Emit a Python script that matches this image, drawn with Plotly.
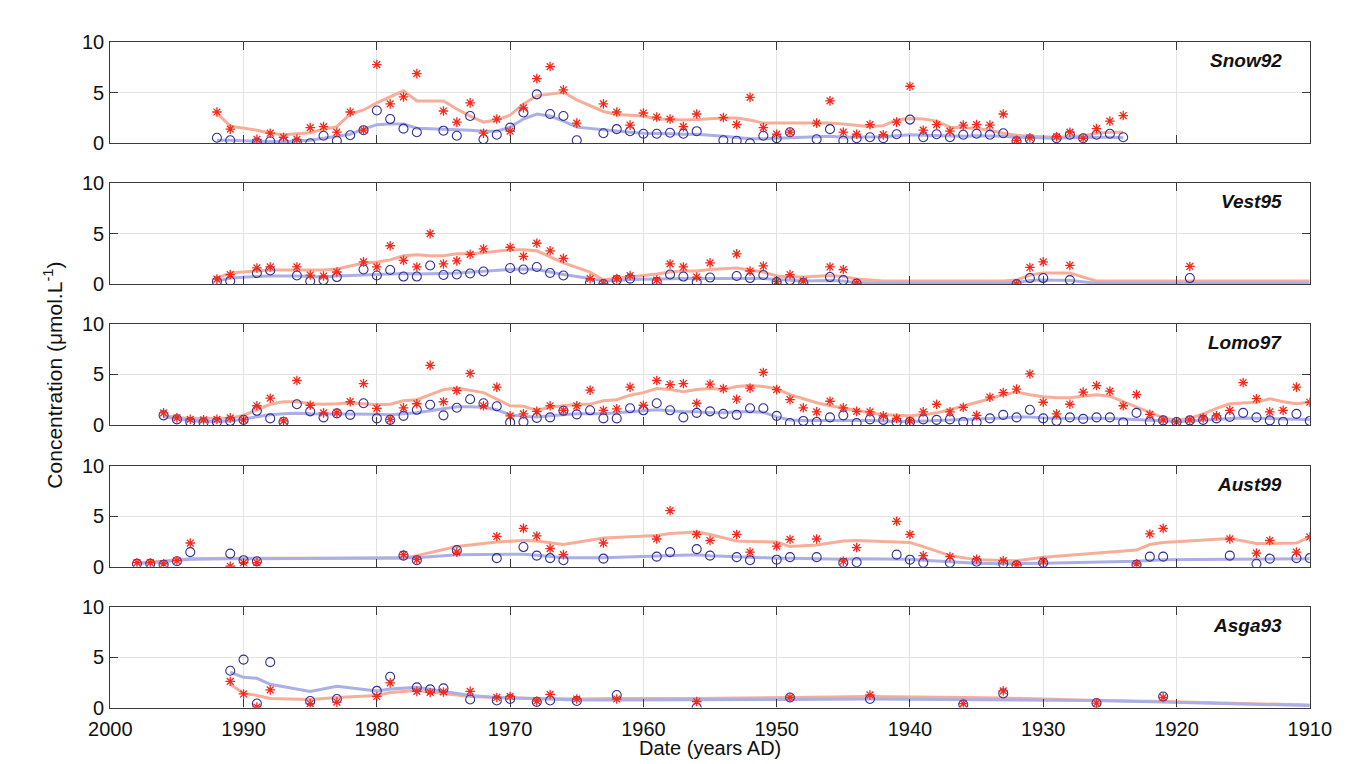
import plotly.graph_objects as go

# ---------------- DATA ----------------
panel_names = ["Snow92", "Vest95", "Lomo97", "Aust99", "Asga93"]

# Snow92
snow_years = [1992, 1991, 1989, 1988, 1987, 1986, 1985, 1984, 1983, 1982, 1981, 1980, 1979, 1978, 1977,
              1975, 1974, 1973, 1972, 1971, 1970, 1969, 1968, 1967, 1966, 1965,
              1963, 1962, 1961, 1960, 1959, 1958, 1957, 1956,
              1954, 1953, 1952, 1951, 1950, 1949,
              1947, 1946, 1945, 1944, 1943, 1942, 1941, 1940, 1939, 1938, 1937, 1936, 1935, 1934, 1933, 1932, 1931,
              1929, 1928, 1927, 1926, 1925, 1924]
snow_red = [3.1, 1.4, 0.4, 1.0, 0.6, 0.4, 1.55, 1.65, 1.1, 3.1, 1.3, 7.8, 3.9, 4.6, 6.9,
            3.2, 2.1, 4.0, 1.0, 2.4, 1.2, 3.5, 6.4, 7.6, 5.3, 2.0,
            3.9, 3.1, 1.8, 3.0, 2.6, 2.4, 1.65, 2.9,
            2.55, 1.85, 4.55, 1.55, 0.9, 1.1,
            2.0, 4.2, 1.1, 0.9, 1.85, 0.85, 2.1, 5.65, 1.3, 1.85, 1.2, 1.8, 1.85, 1.8, 2.9, 0.3, 0.55,
            0.65, 1.1, 0.5, 1.45, 2.2, 2.75]
snow_blue = [0.55, 0.3, 0.05, 0.2, 0.1, 0.05, 0.0, 0.75, 0.25, 0.8, 1.3, 3.25, 2.4, 1.45, 1.1,
             1.25, 0.75, 2.7, 0.4, 0.85, 1.55, 3.05, 4.85, 2.9, 2.7, 0.3,
             1.0, 1.4, 1.2, 0.95, 0.95, 1.05, 0.95, 1.2,
             0.3, 0.25, 0.0, 0.75, 0.5, 1.1,
             0.4, 1.4, 0.25, 0.5, 0.6, 0.5, 0.9, 2.35, 0.6, 0.9, 0.6, 0.85, 0.95, 0.85, 1.0, 0.2, 0.4,
             0.5, 0.85, 0.5, 0.85, 0.95, 0.6]
snow_line_years = snow_years
snow_red_line = [3.0, 1.7, 1.3, 1.0, 0.85, 0.95, 1.05, 1.4, 1.65, 2.9, 3.3, 4.0, 4.6, 5.2, 4.2,
                 4.2, 3.4, 2.7, 2.1, 2.3, 2.8, 3.9, 4.7, 4.9, 5.05, 4.3,
                 3.15, 2.85, 2.8, 2.7, 2.4, 2.35, 2.3, 2.35,
                 2.5, 2.5, 2.3, 2.0, 2.0, 2.0,
                 2.0, 2.0, 1.9, 1.8, 1.65, 1.75, 2.3, 2.45, 2.4, 2.2, 1.6, 1.55, 1.5, 1.3, 1.0, 0.8, 0.7,
                 0.6, 0.7, 0.75, 1.0, 1.1, 1.1]
snow_blue_line = [0.3, 0.3, 0.2, 0.2, 0.15, 0.25, 0.3, 0.5, 0.7, 0.9, 1.4, 1.85, 1.9, 1.9, 1.5,
                  1.4, 1.4, 1.3, 1.2, 1.2, 1.6, 2.4, 2.9, 2.7, 2.2, 1.6,
                  1.35, 1.2, 1.1, 1.0, 1.0, 0.95, 0.9, 0.9,
                  0.7, 0.55, 0.45, 0.45, 0.5, 0.6,
                  0.65, 0.7, 0.6, 0.6, 0.6, 0.65, 0.75, 0.85, 0.8, 0.75, 0.7, 0.7, 0.75, 0.75, 0.7, 0.6, 0.55,
                  0.5, 0.55, 0.6, 0.6, 0.6, 0.55]

# Vest95
vest_years = [1992, 1991, 1989, 1988, 1986, 1985, 1984, 1983,
              1981, 1980, 1979, 1978, 1977, 1976, 1975, 1974, 1973, 1972,
              1970, 1969, 1968, 1967, 1966, 1964, 1963, 1962, 1961,
              1959, 1958, 1957, 1956, 1955, 1953, 1952, 1951, 1950, 1949, 1948,
              1946, 1945, 1944, 1932, 1931, 1930, 1928, 1919]
vest_red = [0.5, 0.95, 1.6, 1.7, 1.7, 0.9, 0.8, 1.2,
            2.2, 1.7, 3.8, 2.35, 1.7, 5.0, 2.0, 2.3, 2.95, 3.5,
            3.65, 2.75, 4.05, 3.3, 2.55, 0.55, 0.05, 0.55, 0.85,
            0.4, 2.0, 1.7, 0.7, 2.1, 3.0, 1.3, 1.8, 0.25, 0.95, 0.3,
            1.7, 1.45, 0.1, 0.0, 1.65, 2.2, 1.85, 1.75]
vest_blue = [0.25, 0.3, 1.1, 1.35, 0.85, 0.3, 0.4, 0.7,
             1.45, 0.85, 1.4, 0.75, 0.75, 1.85, 0.9, 0.95, 1.05, 1.25,
             1.6, 1.45, 1.7, 1.1, 0.85, 0.15, 0.0, 0.4, 0.55,
             0.2, 0.95, 0.75, 0.2, 0.65, 0.8, 0.6, 0.9, 0.2, 0.4, 0.1,
             0.7, 0.4, 0.05, 0.0, 0.6, 0.6, 0.4, 0.6]
vest_line_years = [1992, 1991, 1989, 1988, 1986, 1985, 1984, 1983,
                   1981, 1980, 1979, 1978, 1977, 1976, 1975, 1974, 1973, 1972,
                   1970, 1969, 1968, 1967, 1966, 1964, 1963, 1962, 1961,
                   1959, 1958, 1957, 1956, 1955, 1953, 1952, 1951, 1950, 1949, 1948,
                   1946, 1945, 1944, 1942, 1933, 1932, 1931, 1930, 1928, 1926, 1919, 1910]
vest_red_line = [0.6, 1.1, 1.3, 1.4, 1.4, 1.4, 1.4, 1.5,
                 2.1, 2.2, 2.4, 2.8, 2.9, 2.8, 2.8, 3.0, 3.0, 3.1,
                 3.4, 3.4, 3.3, 2.7, 2.1, 1.2, 0.4, 0.6, 0.7,
                 1.0, 1.2, 1.3, 1.3, 1.45, 1.6, 1.4, 1.2, 0.8, 0.7, 0.7,
                 0.85, 0.75, 0.5, 0.3, 0.3, 0.4, 0.9, 1.1, 1.1, 0.3, 0.3, 0.3]
vest_blue_line = [0.3, 0.6, 0.75, 0.8, 0.8, 0.75, 0.7, 0.8,
                  0.9, 1.0, 1.0, 1.05, 1.0, 1.0, 1.05, 1.1, 1.2, 1.3,
                  1.45, 1.5, 1.45, 1.2, 0.95, 0.55, 0.3, 0.35, 0.45,
                  0.5, 0.55, 0.55, 0.55, 0.55, 0.6, 0.6, 0.55, 0.45, 0.35, 0.3,
                  0.35, 0.3, 0.15, 0.1, 0.1, 0.15, 0.35, 0.4, 0.35, 0.1, 0.1, 0.1]

# Lomo97 (every year 1996 -> 1910)
lomo_years = list(range(1996, 1909, -1))
lomo_red = [1.2, 0.7, 0.55, 0.5, 0.55, 0.7, 0.5, 1.9, 2.65, 0.4,
            4.4, 1.95, 1.2, 1.2, 2.3, 4.1, 1.65, 0.55, 1.7, 2.1,
            5.9, 2.3, 3.4, 5.1, 1.9, 3.75, 0.9, 1.1, 1.35, 1.9,
            1.45, 1.9, 3.45, 1.45, 1.6, 3.75, 1.95, 4.4, 4.0, 4.1,
            2.15, 4.05, 3.6,
            2.55, 3.65, 5.2, 3.5, 2.5, 1.7, 1.3, 2.35, 1.7, 1.35,
            1.3, 0.9, 0.65, 0.4, 1.3, 2.05, 1.3, 1.75, 0.95, 2.75,
            3.2, 3.55, 5.05, 2.25, 1.1, 2.05, 3.25, 3.9, 3.35, 1.9,
            3.0, 1.05, 0.5, 0.3, 0.5, 0.7, 0.9, 1.45, 4.2, 2.6,
            1.3, 1.45, 3.75, 2.25]
lomo_blue = [0.95, 0.55, 0.3, 0.25, 0.3, 0.4, 0.5, 1.4, 0.65, 0.3,
             2.05, 1.35, 0.75, 1.15, 1.0, 2.15, 0.65, 0.5, 0.9, 1.5,
             2.0, 0.95, 1.7, 2.55, 2.15, 1.85, 0.25, 0.3, 0.7, 0.75,
             1.4, 1.05, 1.45, 0.65, 0.65, 1.65, 1.45, 2.15, 1.45, 0.75,
             1.2, 1.35, 1.1,
             1.0, 1.65, 1.65, 0.9, 0.2, 0.4, 0.3, 0.75, 0.95, 0.2,
             0.55, 0.5, 0.3, 0.3, 0.55, 0.5, 0.55, 0.3, 0.25, 0.65,
             1.0, 0.75, 1.5, 0.65, 0.4, 0.75, 0.6, 0.75, 0.75, 0.25,
             1.2, 0.3, 0.45, 0.3, 0.45, 0.5, 0.65, 0.8, 1.2, 0.75,
             0.45, 0.3, 1.1, 0.4]
lomo_line_years = lomo_years
lomo_red_line = [0.95, 0.75, 0.65, 0.65, 0.7, 0.7, 0.95, 1.5, 2.05, 2.3,
                 2.3, 2.1, 2.05, 2.1, 2.2, 2.1, 2.0, 2.05, 2.4, 2.5,
                 3.0, 3.5, 3.65, 3.4, 3.2, 2.55, 1.9, 1.85, 1.45, 1.75,
                 1.9, 2.05, 2.05, 2.4, 2.5, 2.95, 3.2, 3.6, 3.5, 3.3,
                 3.5, 3.6, 3.5,
                 3.8, 3.9, 3.8, 3.6, 3.0, 2.6, 2.2, 1.9, 1.65, 1.4,
                 1.2, 1.0, 0.95, 0.9, 1.0, 1.2, 1.5, 1.85, 2.2, 2.6,
                 3.0, 3.25, 3.0, 2.8, 2.7, 2.7, 2.85, 3.0, 2.85, 2.3,
                 1.75, 1.2, 0.7, 0.5, 0.65, 1.1, 1.65, 2.1, 2.2, 2.25,
                 2.6, 2.3, 2.1, 2.25]
lomo_blue_line = [0.8, 0.6, 0.45, 0.35, 0.35, 0.4, 0.6, 0.8, 1.0, 1.1,
                  1.15, 1.1, 1.1, 1.1, 1.1, 1.1, 1.05, 1.0, 1.1, 1.2,
                  1.4, 1.6, 1.8, 1.8, 1.75, 1.5, 1.0, 0.85, 0.8, 0.9,
                  1.0, 1.1, 1.1, 1.1, 1.2, 1.3, 1.45, 1.5, 1.4, 1.3,
                  1.3, 1.2, 1.2,
                  1.3, 1.3, 1.25, 0.8, 0.5, 0.45, 0.45, 0.5, 0.5, 0.45,
                  0.45, 0.4, 0.35, 0.35, 0.4, 0.45, 0.45, 0.5, 0.55, 0.6,
                  0.7, 0.8, 0.8, 0.7, 0.65, 0.65, 0.7, 0.7, 0.65, 0.6,
                  0.55, 0.45, 0.4, 0.35, 0.4, 0.5, 0.55, 0.65, 0.7, 0.7,
                  0.65, 0.6, 0.6, 0.55]

# Aust99
aust_years = [1998, 1997, 1996, 1995, 1994, 1991, 1990, 1989,
              1978, 1977, 1974, 1971, 1969, 1968, 1967, 1966,
              1963, 1959, 1958, 1956, 1955,
              1953, 1952, 1950, 1949, 1947,
              1945, 1944, 1941, 1940, 1939,
              1937, 1935, 1933, 1932, 1930,
              1923, 1922, 1921,
              1916, 1914, 1913, 1911, 1910]
aust_red = [0.4, 0.4, 0.3, 0.6, 2.35, 0.05, 0.4, 0.4,
            1.2, 0.7, 1.45, 3.0, 3.8, 3.05, 1.8, 1.2,
            2.35, 2.75, 5.55, 3.2, 2.6,
            3.2, 1.45, 2.05, 2.7, 2.75,
            0.55, 1.9, 4.5, 3.2, 1.1,
            1.0, 0.75, 0.6, 0.2, 0.55,
            0.3, 3.25, 3.8,
            2.75, 1.35, 2.6, 1.45, 2.95]
aust_blue = [0.3, 0.3, 0.2, 0.55, 1.45, 1.3, 0.65, 0.55,
             1.1, 0.65, 1.65, 0.85, 1.95, 1.1, 0.85, 0.65,
             0.8, 1.0, 1.45, 1.75, 1.1,
             0.95, 0.65, 0.7, 0.95, 0.95,
             0.4, 0.45, 1.2, 0.7, 0.4,
             0.4, 0.5, 0.3, 0.15, 0.4,
             0.2, 1.0, 1.0,
             1.1, 0.3, 0.8, 0.85, 0.85]
aust_line_years = aust_years
aust_red_line = [0.4, 0.45, 0.55, 0.7, 0.8, 0.85, 0.85, 0.85,
                 0.85, 1.1, 2.0, 2.45, 2.6, 2.55, 2.4, 2.2,
                 2.85, 3.1, 3.3, 3.45, 3.2,
                 2.55, 2.5, 2.45, 2.0, 2.15,
                 2.55, 2.6, 2.45, 2.4, 2.0,
                 1.1, 0.7, 0.6, 0.6, 0.95,
                 1.65, 2.2, 2.4,
                 2.8, 2.3, 2.3, 2.35, 2.95]
aust_blue_line = [0.3, 0.4, 0.55, 0.65, 0.75, 0.8, 0.8, 0.8,
                  0.9, 0.9, 1.2, 1.2, 1.25, 1.15, 1.0, 0.9,
                  0.9, 1.05, 1.1, 1.2, 1.1,
                  1.0, 0.9, 0.85, 0.85, 0.8,
                  0.75, 0.8, 0.75, 0.75, 0.65,
                  0.5, 0.35, 0.3, 0.3, 0.35,
                  0.55, 0.65, 0.7,
                  0.75, 0.75, 0.75, 0.75, 0.8]

# Asga93
asga_years = [1991, 1990, 1989, 1988, 1985, 1983, 1980, 1979, 1977, 1976, 1975, 1973,
              1971, 1970, 1968, 1967, 1965, 1962, 1956, 1949, 1943, 1936, 1933, 1926, 1921]
asga_red = [2.6, 1.35, 0.05, 1.75, 0.4, 0.55, 1.1, 2.45, 1.6, 1.5, 1.55, 1.6,
            1.0, 1.1, 0.65, 1.3, 0.85, 0.85, 0.6, 1.0, 1.25, 0.4, 1.65, 0.45, 1.0]
asga_blue = [3.65, 4.75, 0.4, 4.5, 0.65, 0.85, 1.65, 3.05, 2.0, 1.8, 1.9, 0.8,
             0.7, 0.85, 0.55, 0.7, 0.65, 1.25, 0.0, 1.0, 0.85, 0.3, 1.4, 0.45, 1.1]
asga_line_years = [1991, 1990, 1989, 1988, 1985, 1983, 1980, 1979, 1977, 1976, 1975, 1973,
                   1971, 1970, 1968, 1967, 1965, 1962, 1956, 1949, 1943, 1936, 1933, 1926, 1921, 1910]
asga_red_line = [2.3, 1.4, 1.2, 0.9, 0.8, 1.0, 1.2, 1.5, 1.7, 1.55, 1.45, 1.1,
                 1.0, 0.95, 0.9, 0.9, 0.85, 0.9, 0.9, 1.0, 1.1, 1.0, 0.95, 0.7, 0.6, 0.25]
asga_blue_line = [3.5, 3.0, 2.9, 2.3, 1.6, 2.1, 1.65, 1.85, 2.0, 1.8, 1.6, 1.2,
                  1.0, 0.95, 0.85, 0.8, 0.75, 0.75, 0.75, 0.8, 0.85, 0.8, 0.8, 0.7, 0.55, 0.2]

x_ticks = [2000, 1990, 1980, 1970, 1960, 1950, 1940, 1930, 1920, 1910]
y_ticks = [0, 5, 10]

panels = [
    (snow_years, snow_red, snow_blue, snow_line_years, snow_red_line, snow_blue_line),
    (vest_years, vest_red, vest_blue, vest_line_years, vest_red_line, vest_blue_line),
    (lomo_years, lomo_red, lomo_blue, lomo_line_years, lomo_red_line, lomo_blue_line),
    (aust_years, aust_red, aust_blue, aust_line_years, aust_red_line, aust_blue_line),
    (asga_years, asga_red, asga_blue, asga_line_years, asga_red_line, asga_blue_line),
]

# ---------------- STYLE / LAYOUT ----------------
W, H = 1347, 764
FONT = "Liberation Sans, Arial, sans-serif"
px_left, px_right = 83, 1323
panel_px = [(24, 128), (169, 273), (314, 418), (460, 564), (605, 709)]

RED = "#f52a1c"
BLUE = "#2f2f9c"
RED_LINE = "#f7ae98"
BLUE_LINE = "#abafe4"
TICK_SIZE = 20

fig = go.Figure()
layout = dict(
    width=W, height=H,
    margin=dict(l=0, r=0, t=0, b=0),
    paper_bgcolor="white", plot_bgcolor="white",
    showlegend=False,
    font=dict(family=FONT, size=TICK_SIZE, color="#111"),
)
annotations = []

for i, (yrs, red, blue, lyrs, rl, bl) in enumerate(panels):
    k = i + 1
    xa = "x" if k == 1 else f"x{k}"
    ya = "y" if k == 1 else f"y{k}"
    fig.add_trace(go.Scatter(x=lyrs, y=rl, mode="lines", xaxis=xa, yaxis=ya,
                             line=dict(color=RED_LINE, width=3), hoverinfo="skip"))
    fig.add_trace(go.Scatter(x=lyrs, y=bl, mode="lines", xaxis=xa, yaxis=ya,
                             line=dict(color=BLUE_LINE, width=3), hoverinfo="skip"))
    fig.add_trace(go.Scatter(x=yrs, y=blue, mode="markers", xaxis=xa, yaxis=ya,
                             marker=dict(symbol="circle-open", size=9, color=BLUE,
                                         line=dict(color=BLUE, width=1.1))))
    fig.add_trace(go.Scatter(x=yrs, y=red, mode="markers", xaxis=xa, yaxis=ya,
                             marker=dict(symbol="asterisk-open", size=8, color=RED,
                                         line=dict(color=RED, width=1.3))))

    top, bot = panel_px[i]
    dom_y = [1 - bot / H, 1 - top / H]
    axis_common = dict(showline=True, linecolor="#3a3a3a", linewidth=1.2,
                       mirror="ticks", ticks="inside", ticklen=8, tickwidth=1.2,
                       tickcolor="#3a3a3a", showgrid=True, gridcolor="#e2e2e2",
                       gridwidth=1, zeroline=False,
                       tickfont=dict(family=FONT, size=TICK_SIZE, color="#111"))
    layout["xaxis" if k == 1 else f"xaxis{k}"] = dict(
        axis_common, domain=[px_left / W, px_right / W], anchor=ya,
        range=[2000, 1910], tickmode="array", tickvals=x_ticks,
        ticktext=[str(v) for v in x_ticks], showticklabels=(k == 5),
        ticklabelstandoff=3)
    layout["yaxis" if k == 1 else f"yaxis{k}"] = dict(
        axis_common, domain=dom_y, anchor=xa, range=[0, 10],
        tickmode="array", tickvals=y_ticks, ticktext=[str(v) for v in y_ticks],
        ticklabelstandoff=1)
    annotations.append(dict(
        text=f"<b><i>{panel_names[i]}</i></b>", xref="paper", yref="paper",
        x=1296 / W, y=1 - (top + 19) / H, xanchor="right", yanchor="middle",
        showarrow=False, font=dict(family=FONT, size=19, color="#111")))

annotations.append(dict(
    text="Concentration (μmol.L<sup>-1</sup>)", xref="paper", yref="paper",
    x=24 / W, y=1 - 367 / H, textangle=-90, xanchor="center", yanchor="middle",
    showarrow=False, font=dict(family=FONT, size=21, color="#111")))
annotations.append(dict(
    text="Date (years AD)", xref="paper", yref="paper",
    x=703 / W, y=1 - 764 / H, xanchor="center", yanchor="bottom",
    showarrow=False, font=dict(family=FONT, size=20, color="#111")))

layout["annotations"] = annotations
fig.update_layout(**layout)
fig.write_html("out.html")
